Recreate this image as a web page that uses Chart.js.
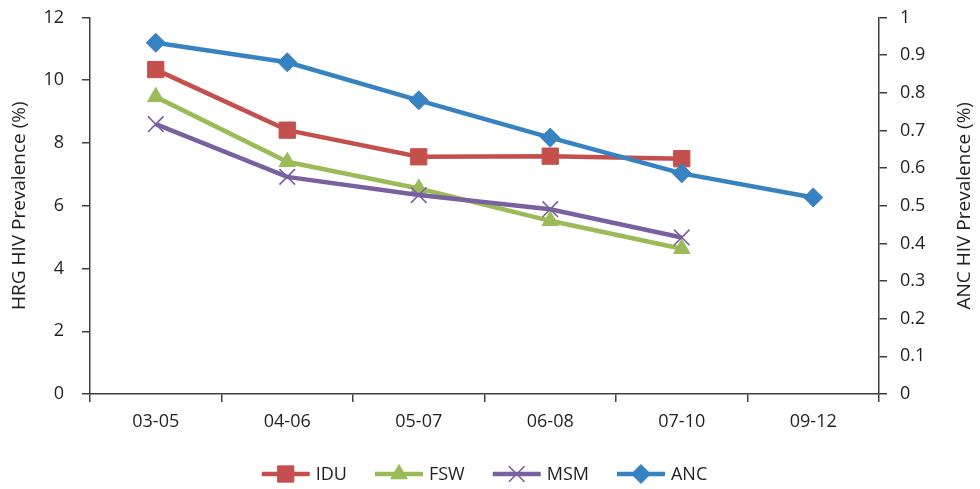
<!DOCTYPE html>
<html>
<head>
<meta charset="utf-8">
<script src="https://cdn.jsdelivr.net/npm/chart.js@4"></script>
<style>
  html, body { margin: 0; padding: 0; background: #fff; }
  #wrap { width: 980px; height: 489px; }
</style>
</head>
<body>
<div id="wrap"><canvas id="c" width="980" height="489"></canvas></div>
<script>
// Survey periods
const periods = ['03-05', '04-06', '05-07', '06-08', '07-10', '09-12'];

// High-risk group prevalence (%), left axis
const idu = [10.34, 8.41, 7.56, 7.58, 7.50, null];
const fsw = [9.47, 7.40, 6.55, 5.52, 4.63, null];
const msm = [8.60, 6.92, 6.34, 5.89, 4.99, null];

// Antenatal clinic prevalence (%), right axis
const anc = [0.933, 0.881, 0.780, 0.681, 0.586, 0.522];

// Axis tick labels
const leftTicks = ['0', '2', '4', '6', '8', '10', '12'];
const rightTicks = ['0', '0.1', '0.2', '0.3', '0.4', '0.5', '0.6', '0.7', '0.8', '0.9', '1'];

// Axis titles
const leftTitle = 'HRG HIV Prevalence (%)';
const rightTitle = 'ANC HIV Prevalence (%)';

const FONT = 'Open Sans';
const INK = '#231f20';
const AXIS = '#3f3f3f';

const series = [
  { label: 'IDU', data: idu, color: '#c4504d', style: 'rect', radius: 11.5, pbw: 1, axis: 'y', order: 3 },
  { label: 'FSW', data: fsw, color: '#9bbb59', style: 'triangle', radius: 9.5, pbw: 1, axis: 'y', order: 2 },
  { label: 'MSM', data: msm, color: '#7b60a0', style: 'crossRot', radius: 11, pbw: 1.6, axis: 'y', order: 1 },
  { label: 'ANC', data: anc, color: '#3782c0', style: 'rectRot', radius: 9.5, pbw: 1, axis: 'y1', order: 0 }
];

// Fixed scale sizes so the plot area sits where it should
const fixSize = (key, size) => s => {
  s[key] = size;
  s.paddingTop = 0; s.paddingBottom = 0;
  s.paddingLeft = 0; s.paddingRight = 0;
};

// Vertical axis titles, both reading bottom-to-top
const axisTitles = {
  id: 'axisTitles',
  afterDraw(chart) {
    const ctx = chart.ctx;
    const area = chart.chartArea;
    const midY = (area.top + area.bottom) / 2;
    ctx.save();
    ctx.font = '19px "' + FONT + '"';
    ctx.fillStyle = INK;
    ctx.textAlign = 'center';
    ctx.textBaseline = 'middle';
    [[19.5, leftTitle], [965, rightTitle]].forEach(([x, text]) => {
      ctx.save();
      ctx.translate(x, midY);
      ctx.rotate(-Math.PI / 2);
      ctx.fillText(text, 0, 0);
      ctx.restore();
    });
    ctx.restore();
  }
};

// Legend drawn below the plot: a short line with the marker on it, then the name
const lineLegend = {
  id: 'lineLegend',
  afterDraw(chart) {
    const ctx = chart.ctx;
    const area = chart.chartArea;
    const y = 474;
    const lineLen = 48, gap = 6, spacing = 28;
    ctx.save();
    ctx.font = '18px "' + FONT + '"';
    const widths = series.map(s => lineLen + gap + ctx.measureText(s.label).width);
    const total = widths.reduce((a, b) => a + b, 0) + spacing * (series.length - 1);
    let x = (area.left + area.right) / 2 - total / 2;
    series.forEach((s, i) => {
      ctx.strokeStyle = s.color;
      ctx.lineWidth = 4.5;
      ctx.beginPath();
      ctx.moveTo(x, y);
      ctx.lineTo(x + lineLen, y);
      ctx.stroke();
      ctx.fillStyle = s.color;
      ctx.lineWidth = s.pbw;
      Chart.helpers.drawPoint(ctx, { pointStyle: s.style, radius: s.radius, rotation: 0, borderWidth: s.pbw }, x + lineLen / 2, y);
      ctx.fillStyle = INK;
      ctx.textBaseline = 'middle';
      ctx.textAlign = 'left';
      ctx.fillText(s.label, x + lineLen + gap, y + 1);
      x += widths[i] + spacing;
    });
    ctx.restore();
  }
};

new Chart(document.getElementById('c'), {
  type: 'line',
  data: {
    labels: periods,
    datasets: series.map(s => ({
      label: s.label,
      data: s.data,
      yAxisID: s.axis,
      order: s.order,
      borderColor: s.color,
      backgroundColor: s.color,
      borderWidth: 4.5,
      tension: 0,
      pointStyle: s.style,
      pointRadius: s.radius,
      pointHoverRadius: s.radius,
      pointBorderWidth: s.pbw,
      pointBackgroundColor: s.color,
      pointBorderColor: s.color,
      spanGaps: false
    }))
  },
  options: {
    responsive: false,
    animation: false,
    devicePixelRatio: 1,
    layout: { padding: { top: 17.5, bottom: 55, left: 0, right: 0 } },
    plugins: { legend: { display: false }, tooltip: { enabled: false } },
    scales: {
      x: {
        type: 'category',
        offset: true,
        grid: { offset: true, drawOnChartArea: false, drawTicks: true, tickLength: 8, color: AXIS, lineWidth: 1.5 },
        border: { color: AXIS, width: 1.5 },
        ticks: { padding: 9, color: INK, font: { family: FONT, size: 18 }, maxRotation: 0 },
        afterFit: fixSize('height', 40)
      },
      y: {
        position: 'left',
        min: 0, max: 12,
        grid: { drawOnChartArea: false, tickLength: 8, color: AXIS, lineWidth: 1.5 },
        border: { color: AXIS, width: 1.5 },
        ticks: { stepSize: 2, padding: 18, color: INK, font: { family: FONT, size: 18 },
                 callback: (v, i) => leftTicks[i] },
        afterFit: fixSize('width', 90)
      },
      y1: {
        position: 'right',
        min: 0, max: 1,
        grid: { drawOnChartArea: false, tickLength: 8, color: AXIS, lineWidth: 1.5 },
        border: { color: AXIS, width: 1.5 },
        ticks: { stepSize: 0.1, padding: 13, color: INK, font: { family: FONT, size: 18 },
                 callback: (v, i) => rightTicks[i] },
        afterFit: fixSize('width', 101)
      }
    }
  },
  plugins: [axisTitles, lineLegend]
});
</script>
</body>
</html>
